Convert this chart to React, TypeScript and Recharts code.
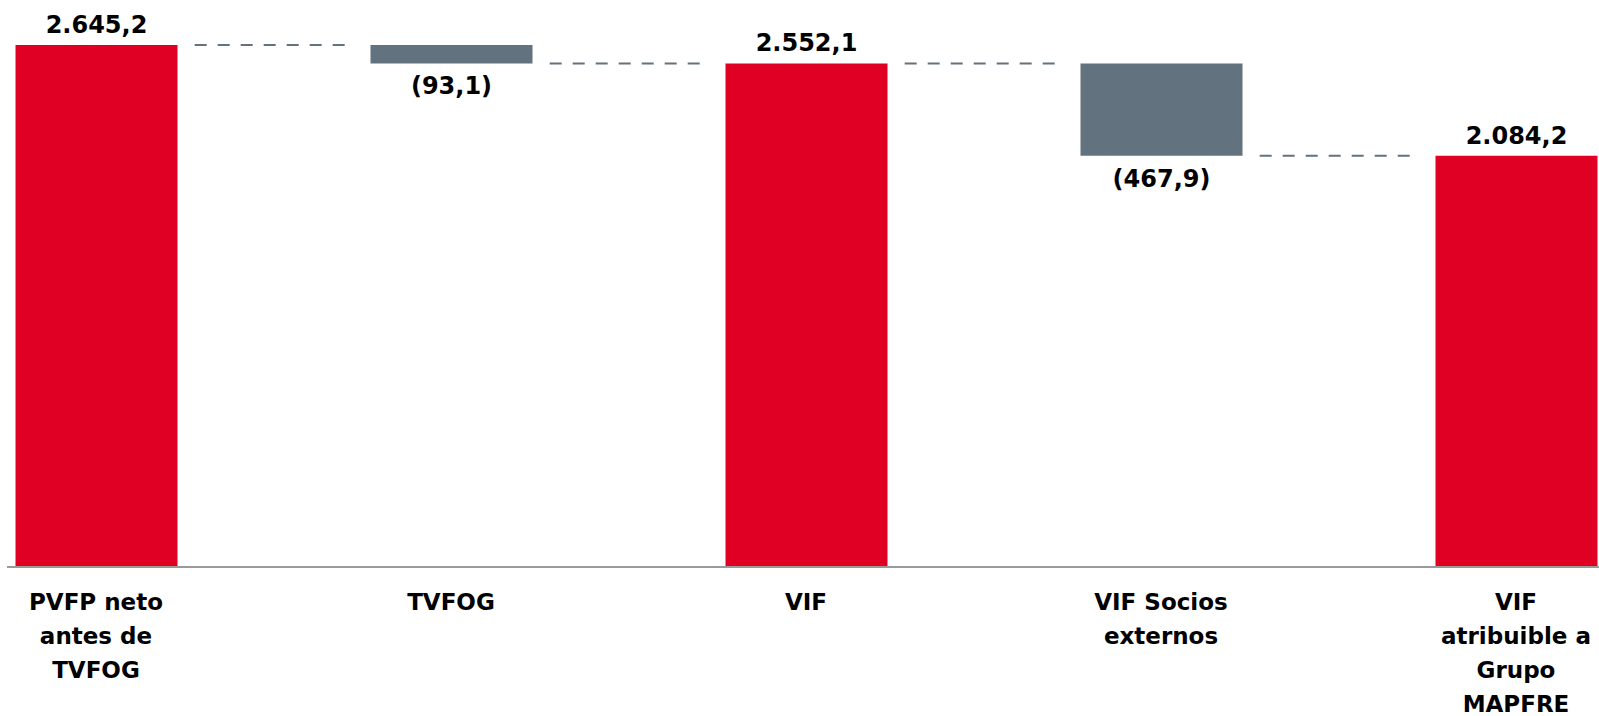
import React from "react";
import { ComposedChart, Bar, XAxis, YAxis, LabelList, ReferenceLine, Cell } from "recharts";

const categoryLines: string[][] = [
  ["PVFP neto", "antes de", "TVFOG"],
  ["TVFOG"],
  ["VIF"],
  ["VIF Socios", "externos"],
  ["VIF", "atribuible a", "Grupo", "MAPFRE"],
];
const amounts: number[] = [2645.2, -93.1, 2552.1, -467.9, 2084.2];
const isTotal: boolean[] = [true, false, true, false, true];

const RED = "#E00024";
const GREY = "#62737F";
const FONT = "'DejaVu Sans', sans-serif";

function fmt(v: number): string {
  const a = Math.abs(v).toFixed(1);
  const [i, d] = a.split(".");
  const s = i.replace(/\B(?=(\d{3})+(?!\d))/g, ".") + "," + d;
  return v < 0 ? "(" + s + ")" : s;
}

let running = 0;
const data = amounts.map((amt, idx) => {
  let base = 0;
  let val = 0;
  if (isTotal[idx]) {
    base = 0;
    val = amt;
    running = amt;
  } else {
    const next = running + amt;
    base = Math.min(running, next);
    val = Math.abs(amt);
    running = next;
  }
  return { pos: idx, base, val, amt, total: isTotal[idx] };
});

// connector levels: top of each step
const levels = data.slice(0, -1).map((d, i) => (d.total ? d.amt : data[i].base));

const HALF = 0.228; // half bar width in category units
const GAP = 0.05;

const Tick = (props: any) => {
  const { x, y, payload } = props;
  const lines = categoryLines[payload.value] || [];
  return (
    <text x={x} y={y} textAnchor="middle" fontFamily={FONT} fontWeight="bold" fontSize={23} fill="#000">
      {lines.map((l, i) => (
        <tspan key={i} x={x} dy={i === 0 ? 35 : 34}>
          {l}
        </tspan>
      ))}
    </text>
  );
};

const ValueLabel = (props: any) => {
  const { x, y, width, height, index } = props;
  const d = data[index];
  const cx = x + width / 2;
  if (d.total) {
    return (
      <text x={cx} y={y - 12} textAnchor="middle" fontFamily={FONT} fontWeight="bold" fontSize={24} fill="#000">
        {fmt(d.amt)}
      </text>
    );
  }
  return (
    <text x={cx} y={y + height + 31} textAnchor="middle" fontFamily={FONT} fontWeight="bold" fontSize={24} fill="#000">
      {fmt(d.amt)}
    </text>
  );
};

export default function App() {
  return (
    <div style={{ position: "absolute", left: 0, top: 0, width: 1599, height: 716, background: "#fff" }}>
      <ComposedChart
        width={1599}
        height={716}
        data={data}
        margin={{ top: 14.5, right: 0, left: 7, bottom: 9 }}
        barGap={0}
      >
        <XAxis
          dataKey="pos"
          type="number"
          domain={[-0.2507, 4.2338]}
          allowDataOverflow
          ticks={[0, 1, 2, 3, 4]}
          interval={0}
          tick={<Tick />}
          tickLine={false}
          axisLine={{ stroke: "#9A9A9A", strokeWidth: 2 }}
          height={140}
        />
        <YAxis hide width={0} domain={[0, 2800]} allowDataOverflow />
        {levels.map((lv, i) => (
          <ReferenceLine
            key={i}
            segment={[
              { x: i + HALF + GAP, y: lv },
              { x: i + 1 - HALF - GAP, y: lv },
            ]}
            stroke={GREY}
            strokeWidth={2}
            strokeDasharray="12 11"
            ifOverflow="visible"
          />
        ))}
        <Bar dataKey="base" stackId="w" fill="transparent" barSize={162} isAnimationActive={false} />
        <Bar dataKey="val" stackId="w" barSize={162} isAnimationActive={false}>
          {data.map((d, i) => (
            <Cell key={i} fill={d.total ? RED : GREY} />
          ))}
          <LabelList dataKey="val" content={<ValueLabel />} />
        </Bar>
      </ComposedChart>
    </div>
  );
}
